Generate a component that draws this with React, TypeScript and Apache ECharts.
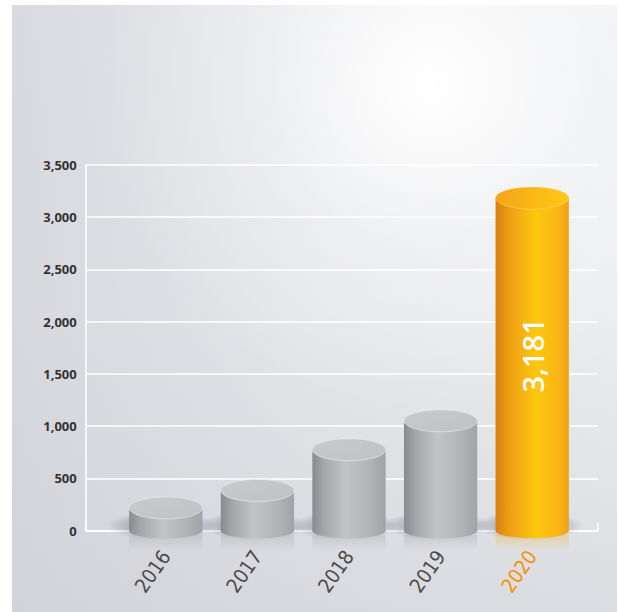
import React, { useEffect, useRef } from "react";
import * as echarts from "echarts";

const years = ["2016", "2017", "2018", "2019", "2020"];
const values = [218, 385, 775, 1051, 3181];
const highlightYear = "2020";
const yMin = 0;
const yMax = 3500;
const yInterval = 500;

const fmt = (v: number) => Number(v).toLocaleString("en-US");

export default function App() {
  const ref = useRef<HTMLDivElement>(null);
  useEffect(() => {
    if (!ref.current) return;
    const chart = echarts.init(ref.current, undefined, { renderer: "svg" });

    const grayBody = () =>
      new echarts.graphic.LinearGradient(0, 0, 1, 0, [
        { offset: 0, color: "#898a8e" },
        { offset: 0.15, color: "#a4a5a9" },
        { offset: 0.45, color: "#c3c4c7" },
        { offset: 0.8, color: "#b1b2b5" },
        { offset: 1, color: "#a2a3a6" },
      ]);
    const orangeBody = () =>
      new echarts.graphic.LinearGradient(0, 0, 1, 0, [
        { offset: 0, color: "#d8800f" },
        { offset: 0.2, color: "#eea013" },
        { offset: 0.55, color: "#fdc70f" },
        { offset: 0.85, color: "#f9b615" },
        { offset: 1, color: "#f29f1a" },
      ]);
    const grayTop = () =>
      new echarts.graphic.LinearGradient(0, 0, 1, 1, [
        { offset: 0, color: "#c9cacd" },
        { offset: 1, color: "#c0c1c4" },
      ]);
    const orangeTop = () =>
      new echarts.graphic.LinearGradient(0, 0, 1, 0, [
        { offset: 0, color: "#f4a41a" },
        { offset: 1, color: "#fdca14" },
      ]);

    const renderItem = (params: any, api: any) => {
      const idx = api.value(0);
      const val = api.value(1);
      const top = api.coord([idx, val]);
      const base = api.coord([idx, 0]);
      const w = api.size([1, 0])[0] * 0.8;
      const cx = top[0];
      const x0 = cx - w / 2;
      const hi = years[idx] === highlightYear;
      const reflColor = hi ? "245,170,20" : "150,152,158";
      const children: any[] = [
        {
          type: "ellipse",
          shape: { cx: cx - 4, cy: base[1] - 5, rx: w / 2 + 18, ry: 14 },
          style: {
            fill: new echarts.graphic.RadialGradient(0.5, 0.5, 0.5, [
              { offset: 0, color: "rgba(85,90,110,0.55)" },
              { offset: 0.6, color: "rgba(85,90,110,0.3)" },
              { offset: 1, color: "rgba(85,90,110,0)" },
            ]),
          },
        },
        {
          type: "rect",
          shape: { x: x0, y: base[1] + 4, width: w, height: 16 },
          style: {
            fill: new echarts.graphic.LinearGradient(0, 0, 0, 1, [
              { offset: 0, color: `rgba(${reflColor},0.3)` },
              { offset: 1, color: `rgba(${reflColor},0)` },
            ]),
          },
        },
        {
          type: "ellipse",
          shape: { cx, cy: base[1], rx: w / 2, ry: 7.5 },
          style: { fill: hi ? orangeBody() : grayBody() },
        },
        {
          type: "rect",
          shape: { x: x0, y: top[1], width: w, height: base[1] - top[1] },
          style: { fill: hi ? orangeBody() : grayBody() },
        },
        {
          type: "ellipse",
          shape: { cx, cy: top[1], rx: w / 2, ry: 11 },
          style: {
            fill: hi ? orangeTop() : grayTop(),
            stroke: hi ? "rgba(255,220,120,0.6)" : "rgba(235,236,238,0.8)",
            lineWidth: 0.8,
          },
        },
      ];
      if (hi) {
        children.push({
          type: "text",
          x: cx,
          y: (top[1] + base[1]) / 2 - 9,
          rotation: Math.PI / 2,
          style: {
            text: fmt(val),
            fill: "#ffffff",
            fontSize: 29,
            fontWeight: 600,
            fontFamily: "Open Sans",
            align: "center",
            verticalAlign: "middle",
          },
        });
      }
      return { type: "group", children };
    };

    chart.setOption({
      animation: false,
      backgroundColor: "#ffffff",
      graphic: [
        {
          type: "rect",
          z: -100,
          shape: { x: 12, y: 5, width: 605, height: 607 },
          style: {
            fill: new echarts.graphic.LinearGradient(0, 0, 1, 0, [
              { offset: 0, color: "#d9dadf" },
              { offset: 0.5, color: "#e9eaed" },
              { offset: 1, color: "#f1f2f4" },
            ]),
          },
        },
        {
          type: "rect",
          z: -99,
          shape: { x: 12, y: 5, width: 605, height: 607 },
          style: {
            fill: new echarts.graphic.LinearGradient(0, 0, 0, 1, [
              { offset: 0, color: "rgba(205,207,213,0)" },
              { offset: 0.5, color: "rgba(205,207,213,0.15)" },
              { offset: 1, color: "rgba(205,207,213,0.6)" },
            ]),
          },
        },
        {
          type: "circle",
          z: -98,
          shape: { cx: 430, cy: 85, r: 330 },
          style: {
            fill: new echarts.graphic.RadialGradient(0.5, 0.5, 0.5, [
              { offset: 0, color: "rgba(255,255,255,1)" },
              { offset: 0.15, color: "rgba(255,255,255,0.8)" },
              { offset: 0.5, color: "rgba(255,255,255,0.3)" },
              { offset: 1, color: "rgba(255,255,255,0)" },
            ]),
          },
        },
      ],
      grid: [
        { left: 120, right: 41, top: 164.7, bottom: 81.3 },
        { left: 85.7, right: 21.3, top: 164.7, bottom: 81.3 },
      ],
      xAxis: [
        {
          type: "category",
          gridIndex: 0,
          data: years,
          axisLine: { show: false },
          axisTick: { show: false },
          axisLabel: {
            rotate: 55,
            margin: 22,
            fontSize: 20,
            fontFamily: "'Liberation Sans Narrow', 'DejaVu Sans Condensed', 'Open Sans'",
            fontWeight: 400,
            color: (v: string) => (v === highlightYear ? "#f39200" : "#4a4a4a"),
          },
        },
        {
          type: "value",
          gridIndex: 1,
          min: 0,
          max: 1,
          interval: 1,
          axisLine: { show: true, lineStyle: { color: "#ffffff", width: 1.5 } },
          axisTick: { show: true, inside: true, length: 8, lineStyle: { color: "#ffffff", width: 1.5 } },
          axisLabel: { show: false },
          splitLine: { show: false },
        },
      ],
      yAxis: [
        {
          type: "value",
          gridIndex: 0,
          min: yMin,
          max: yMax,
          interval: yInterval,
          show: false,
        },
        {
          type: "value",
          gridIndex: 1,
          min: yMin,
          max: yMax,
          interval: yInterval,
          axisLine: { show: true, lineStyle: { color: "#ffffff", width: 1.5 } },
          axisTick: { show: false },
          splitLine: { show: true, lineStyle: { color: "#ffffff", width: 1.5 } },
          axisLabel: {
            margin: 9,
            fontSize: 13,
            fontWeight: 700,
            fontFamily: "Open Sans",
            color: "#333333",
            formatter: (v: number) => fmt(v),
          },
        },
      ],
      series: [
        {
          type: "custom",
          xAxisIndex: 0,
          yAxisIndex: 0,
          clip: false,
          renderItem,
          encode: { x: 0, y: 1 },
          data: values.map((v, i) => [i, v]),
          z: 5,
        },
      ],
    });
    return () => chart.dispose();
  }, []);
  return (
    <div
      ref={ref}
      style={{ position: "absolute", left: 0, top: 0, width: 619, height: 612 }}
    />
  );
}
